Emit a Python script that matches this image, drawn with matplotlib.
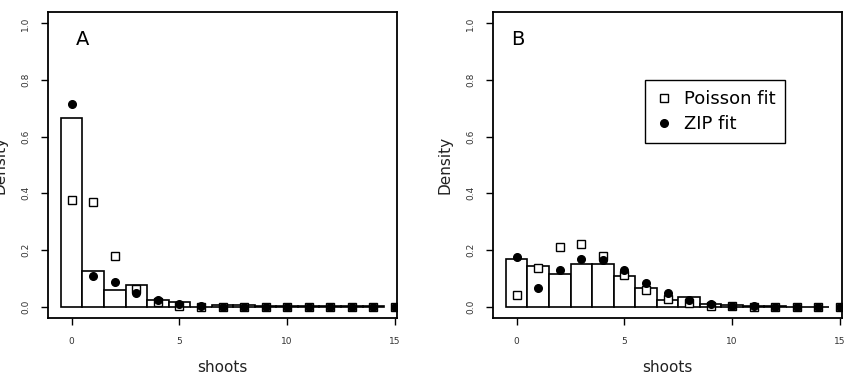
import numpy as np
import matplotlib.pyplot as plt

shoots = np.arange(0, 16)
bar_x = np.arange(0, 15)

# panel A
obs_a = [0.665, 0.125, 0.058, 0.075, 0.022, 0.018, 0.0, 0.005, 0.005, 0.003,
         0.001, 0.001, 0.001, 0.001, 0.001]
pois_a = [0.375, 0.368, 0.178, 0.062, 0.015, 0.003, 0.0005, 0.0, 0.0, 0.0,
          0.0, 0.0, 0.0, 0.0, 0.0, 0.0]
zip_a = [0.715, 0.110, 0.088, 0.050, 0.022, 0.008, 0.002, 0.0, 0.0, 0.0,
         0.0, 0.0, 0.0, 0.0, 0.0, 0.0]

# panel B
obs_b = [0.170, 0.145, 0.115, 0.152, 0.150, 0.110, 0.065, 0.025, 0.035, 0.010,
         0.005, 0.003, 0.001, 0.0, 0.0]
pois_b = [0.040, 0.135, 0.212, 0.222, 0.178, 0.112, 0.058, 0.027, 0.012, 0.004,
          0.001, 0.0, 0.0, 0.0, 0.0, 0.0]
zip_b = [0.177, 0.065, 0.128, 0.168, 0.165, 0.128, 0.083, 0.048, 0.023, 0.010,
         0.004, 0.001, 0.0, 0.0, 0.0, 0.0]

W, H = 858, 374
fig = plt.figure(figsize=(W / 100, H / 100), dpi=100)


def panel(left, obs, pois, zipf, letter, letter_x, legend=False):
    ax = fig.add_axes([left / W, (H - 318) / H, 349 / W, 306 / H])
    ax.bar(bar_x, obs, width=1.0, color="white", edgecolor="black", linewidth=1.2, zorder=1)
    ax.plot(shoots, pois, linestyle="none", marker="s", markersize=5.5,
            markerfacecolor="white", markeredgecolor="black", markeredgewidth=1.0,
            label="Poisson fit", zorder=3)
    ax.plot(shoots, zipf, linestyle="none", marker="o", markersize=5.5,
            color="black", label="ZIP fit", zorder=4)
    ax.set_xlim(-1.1, 15.1)
    ax.set_ylim(-0.04, 1.04)
    ax.set_xticks([0, 5, 10, 15])
    ax.set_yticks([0.0, 0.2, 0.4, 0.6, 0.8, 1.0])
    ax.set_yticklabels(["0.0", "0.2", "0.4", "0.6", "0.8", "1.0"],
                       rotation=90, va="center")
    ax.tick_params(direction="out", length=5, width=1, labelsize=6.5,
                   labelcolor="#333333")
    ax.tick_params(axis="y", pad=8)
    ax.tick_params(axis="x", pad=9)
    for s in ax.spines.values():
        s.set_linewidth(1.3)
    ax.set_xlabel("shoots", fontsize=11, color="#222222", va="center")
    ax.xaxis.set_label_coords(0.5, -49 / 306)
    ax.set_ylabel("Density", fontsize=11, color="#222222", va="center")
    ax.yaxis.set_label_coords(-48 / 349, 0.5)
    ax.text(letter_x, 0.91, letter, fontsize=14, ha="center", va="center",
            transform=ax.transAxes)
    if legend:
        ax.legend(loc="upper left", bbox_to_anchor=(0.435, 0.778), fontsize=13,
                  frameon=True, fancybox=False, edgecolor="black",
                  handlelength=1.0, handletextpad=0.6, borderpad=0.55,
                  borderaxespad=0, labelspacing=0.4, framealpha=1)
    return ax


panel(48, obs_a, pois_a, zip_a, "A", 0.10)
panel(493, obs_b, pois_b, zip_b, "B", 0.07, legend=True)

fig.savefig("out.png", dpi=100)
